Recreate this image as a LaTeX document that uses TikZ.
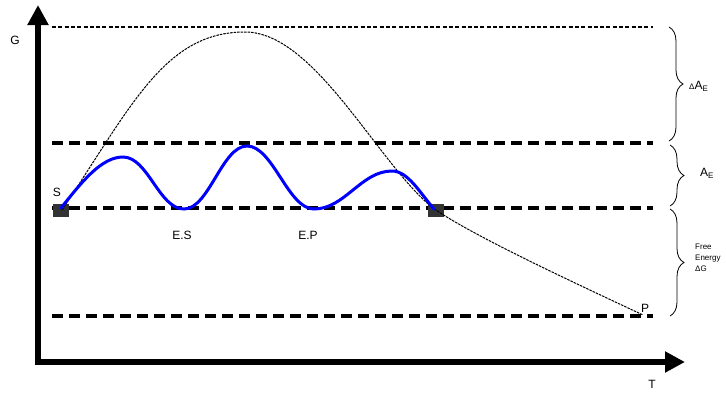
\documentclass[tikz,border=0pt]{standalone}
\usepackage{fontspec}
\setmainfont{Liberation Sans}
\usetikzlibrary{arrows.meta,decorations.pathreplacing}
\tikzset{
  axisline/.style={line width=6pt, line join=miter, {Triangle[length=20pt,width=20pt]}-{Triangle[length=20pt,width=20pt]}},
  thindash/.style={line width=2pt, dash pattern=on 4pt off 2.3pt},
  thickdash/.style={line width=4pt, dash pattern=on 10.5pt off 6.5pt},
  bluecurve/.style={line width=3pt, blue, line cap=round},
  fine/.style={line width=1pt, dash pattern=on 2.5pt off 1pt},
  sq/.style={fill=black!80, draw=none},
  brace/.style={decorate, decoration={brace, amplitude=14pt}, line width=0.8pt},
  lbl/.style={font=\fontsize{12}{14}\selectfont, inner sep=0pt},
  small/.style={font=\fontsize{8}{11}\selectfont, inner sep=0pt, align=left}
}
\begin{document}
\begin{tikzpicture}[x=1pt,y=-1pt]
\useasboundingbox (0,0) rectangle (726,392);
% axes
\coordinate (ytip) at (38,5);
\coordinate (orig) at (38,362);
\coordinate (xtip) at (685,362);
\draw[axisline] (ytip) -- (orig) -- (xtip);
\node[lbl] (G) at (15,40) {G};
\node[lbl] (T) at (652,384) {T};
% levels
\coordinate (l1a) at (52,27);  \coordinate (l1b) at (653,27);
\coordinate (l2a) at (52,143); \coordinate (l2b) at (653,143);
\coordinate (l3a) at (52,208); \coordinate (l3b) at (653,208);
\coordinate (l4a) at (52,316); \coordinate (l4b) at (653,316);
\draw[thindash] (l1a) -- (l1b);
\draw[thickdash] (l2a) -- (l2b);
\draw[thickdash] (l3a) -- (l3b);
\draw[thickdash] (l4a) -- (l4b);
% squares
\node[sq, minimum width=16pt, minimum height=13pt, inner sep=0pt] (sqA) at (61,210.5) {};
\node[sq, minimum width=16pt, minimum height=13pt, inner sep=0pt] (sqB) at (436,210.5) {};
% uncatalysed path
\coordinate (u0) at (62,210);
\coordinate (u1) at (245,32);
\coordinate (u2) at (433,208);
\coordinate (u3) at (643,315);
\draw[fine] (u0) .. controls (132,105) and (165,32) .. (u1)
  .. controls (315,32) and (378,164) .. (u2)
  .. controls (473,236) and (573,282) .. (u3);
% catalysed path
\draw[bluecurve] (61,208) .. controls (81,183) and (101,157) .. (123,157)
  .. controls (148,157) and (159,209) .. (184,209)
  .. controls (209,209) and (222,146) .. (247,146)
  .. controls (273,146) and (288,209) .. (314,209)
  .. controls (345,209) and (361,171) .. (392,171)
  .. controls (408,171) and (420,193) .. (434,209);
% labels
\node[lbl] (S) at (57,192) {S};
\node[lbl] (ES) at (182,235) {E.S};
\node[lbl] (EP) at (308,235) {E.P};
\node[lbl] (P) at (645,308) {P};
% braces
\draw[brace] (669,27) -- (669,141);
\draw[brace] (670,145) -- (670,206);
\draw[brace] (670,209) -- (670,316);
\node[inner sep=0pt, anchor=west] (dAE) at (689,86) {{\fontsize{8}{8}\selectfont Δ}{\fontsize{12}{14}\selectfont A}{\fontsize{8}{8}\selectfont\raisebox{-2pt}{E}}};
\node[inner sep=0pt, anchor=west] (AE) at (700,173) {{\fontsize{12}{14}\selectfont A}{\fontsize{8}{8}\selectfont\raisebox{-2pt}{E}}};
\node[small, anchor=north west] (FE) at (695,244) {Free\\Energy\\ΔG};
\end{tikzpicture}
\end{document}
